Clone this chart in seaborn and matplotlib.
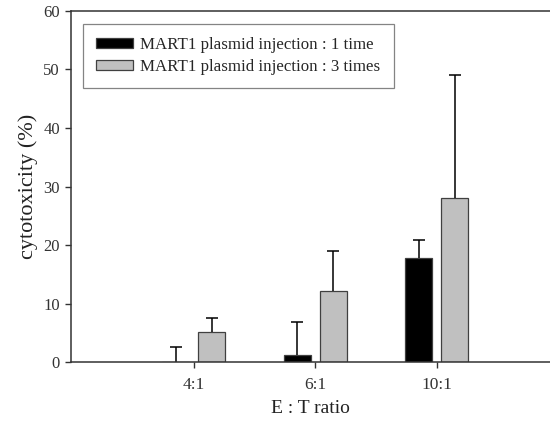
import matplotlib
matplotlib.use("Agg")
import matplotlib.pyplot as plt
import seaborn as sns
import pandas as pd
import numpy as np

categories = ["4:1", "6:1", "10:1"]
series_names = ["MART1 plasmid injection : 1 time", "MART1 plasmid injection : 3 times"]
values_1time = [0.0, 1.2, 17.8]
errors_1time = [2.6, 5.7, 3.0]
values_3times = [5.1, 12.2, 28.0]
errors_3times = [2.5, 6.8, 21.0]

sns.set_style("white")
plt.rcParams['font.family'] = ['Liberation Serif', 'DejaVu Serif']

df = pd.DataFrame({
    "ratio": categories * 2,
    "group": [series_names[0]] * 3 + [series_names[1]] * 3,
    "value": values_1time + values_3times,
})

fig = plt.figure(figsize=(5.5, 4.21), dpi=100)
ax = fig.add_axes([0.129, 0.140, 0.871, 0.834])

palette = {series_names[0]: "#000000", series_names[1]: "#c0c0c0"}
sns.barplot(data=df, x="ratio", y="value", hue="group", order=categories,
            hue_order=series_names, palette=palette, width=0.593, gap=0.25,
            edgecolor="#404040", linewidth=0.9, errorbar=None, ax=ax, saturation=1)

errs = [errors_1time, errors_3times]
vals = [values_1time, values_3times]
bar_containers = list(ax.containers)
for gi, cont in enumerate(bar_containers):
    for bi, bar in enumerate(cont):
        xc = bar.get_x() + bar.get_width() / 2
        _, caps, _ = ax.errorbar([xc], [vals[gi][bi]], yerr=[[0], [errs[gi][bi]]], fmt="none",
                                 ecolor="black", elinewidth=1.1, capsize=4.5, capthick=1.1, zorder=1)
        caps[0].set_visible(False)

ax.set_xlim(-1.01, 2.93)
ax.set_ylim(0, 60)
ax.set_yticks(np.arange(0, 61, 10))
ax.tick_params(axis="both", direction="out", length=4, width=1, colors="#333333",
               labelcolor="#333333", left=True, bottom=True)
ax.tick_params(axis="y", labelsize=12, pad=4)
ax.tick_params(axis="x", labelsize=12.5, pad=7)
ax.set_xlabel("E : T ratio", fontsize=14, color="#222222", labelpad=5)
ax.set_ylabel("cytotoxicity (%)", fontsize=16, color="#222222", labelpad=4)
for s in ["left", "bottom", "top"]:
    ax.spines[s].set_visible(True)
    ax.spines[s].set_color("#333333")
    ax.spines[s].set_linewidth(1.1)
ax.spines["right"].set_visible(False)

leg = ax.legend(loc="upper left", bbox_to_anchor=(0.025, 0.963), borderaxespad=0,
                fontsize=12.2, frameon=True, fancybox=False, edgecolor="#666666",
                handlelength=2.2, handleheight=0.5, labelspacing=0.35, borderpad=0.78,
                handletextpad=0.4)
leg.get_frame().set_linewidth(0.9)

fig.savefig("out.png", dpi=100)
